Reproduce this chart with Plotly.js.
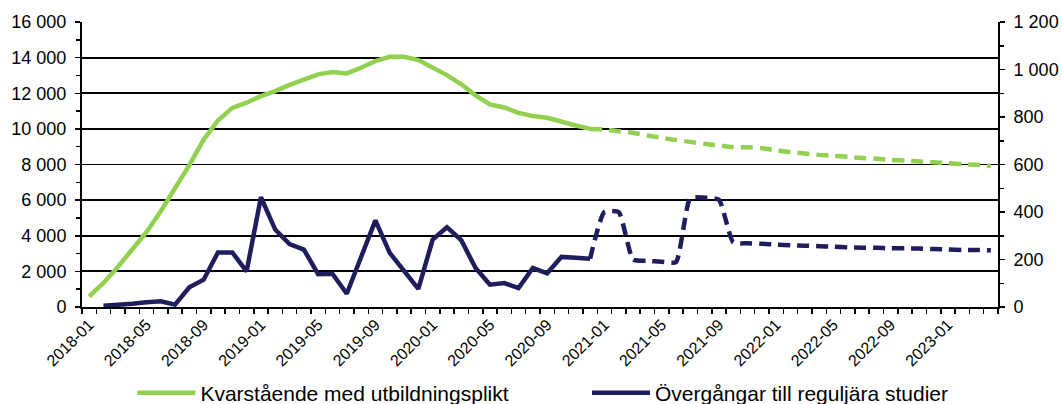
<!DOCTYPE html>
<html><head><meta charset="utf-8">
<script src="https://cdn.plot.ly/plotly-3.0.1.min.js"></script>
<style>body{margin:0;background:#fff}#chart{width:1062px;height:404px}</style>
</head><body><div id="chart"></div>
<script>
const months = [
"2018-01","2018-02","2018-03","2018-04","2018-05","2018-06","2018-07","2018-08","2018-09","2018-10","2018-11","2018-12",
"2019-01","2019-02","2019-03","2019-04","2019-05","2019-06","2019-07","2019-08","2019-09","2019-10","2019-11","2019-12",
"2020-01","2020-02","2020-03","2020-04","2020-05","2020-06","2020-07","2020-08","2020-09","2020-10","2020-11","2020-12",
"2021-01","2021-02","2021-03","2021-04","2021-05","2021-06","2021-07","2021-08","2021-09","2021-10","2021-11","2021-12",
"2022-01","2022-02","2022-03","2022-04","2022-05","2022-06","2022-07","2022-08","2022-09","2022-10","2022-11","2022-12",
"2023-01","2023-02","2023-03","2023-04"];
const tickLabels = ["2018-01","2018-05","2018-09","2019-01","2019-05","2019-09","2020-01","2020-05","2020-09",
"2021-01","2021-05","2021-09","2022-01","2022-05","2022-09","2023-01"];

// Kvarstående med utbildningsplikt (left axis)
const kvarActual = [600,1350,2250,3220,4200,5380,6690,7960,9400,10470,11180,11470,
11840,12120,12470,12780,13060,13190,13115,13430,13810,14050,14050,13860,
13470,13020,12500,11880,11370,11200,10900,10720,10620,10380,10190,10000];
const kvarForecast = [10000,9970,9870,9780,9630,9500,9370,9270,9160,9070,8970,8970,8920,
8790,8690,8620,8540,8490,8430,8370,8320,8260,8220,8170,8130,8070,8020,7980,7920];

// Övergångar till reguljära studier (right axis)
const overActual = [null,5,8,14,20,24,10,83,115,230,230,150,
462,326,265,242,138,140,56,211,365,228,155,76,
284,336,281,164,94,101,80,164,142,211,207,203];
const overForecast = [203,400,400,200,194,191,189,459,460,452,272,268,266,
263,260,258,256,254,251,250,249,247,247,246,244,242,240,240,239];

const actualMonths = months.slice(0, kvarActual.length);
const forecastMonths = months.slice(kvarActual.length - 1);

const green = '#92D050', navy = '#1F1D5C';
const font = 'Liberation Sans, Arial, sans-serif';

const traces = [
  {x: actualMonths, y: kvarActual, type:'scatter', mode:'lines', name:'Kvarstående med utbildningsplikt',
   line:{color:green, width:4.5}, yaxis:'y', legend:'legend'},
  {x: actualMonths, y: overActual, type:'scatter', mode:'lines', name:'Övergångar till reguljära studier',
   line:{color:navy, width:4.5}, yaxis:'y2', legend:'legend2'},
  {x: forecastMonths, y: kvarForecast, type:'scatter', mode:'lines', showlegend:false,
   line:{color:green, width:4.5, dash:'12px,7px', shape:'spline', smoothing:0.5}, yaxis:'y'},
  {x: forecastMonths, y: overForecast, type:'scatter', mode:'lines', showlegend:false,
   line:{color:navy, width:4.5, dash:'12px,7px', shape:'spline', smoothing:0.5}, yaxis:'y2'}
];

const legendBase = {orientation:'h', xanchor:'left', y:-0.302, yanchor:'middle', itemwidth:58,
  font:{family:font, size:21, color:'#000'}, bgcolor:'rgba(0,0,0,0)'};

const layout = {
  width:1062, height:404,
  margin:{l:82, r:64, t:22, b:97, autoexpand:false},
  paper_bgcolor:'#fff', plot_bgcolor:'#fff',
  separators:', ',
  font:{family:font, color:'#000', size:18},
  showlegend:true,
  xaxis:{type:'category', range:[-0.5, months.length-0.5], tickmode:'array',
    tickvals: months, ticktext: months.map(m => tickLabels.includes(m) ? m : ''),
    tickson:'boundaries', ticks:'outside', ticklen:5, tickcolor:'#000', tickwidth:1.5,
    tickangle:-45, showline:true, linecolor:'#000', linewidth:2, showgrid:false, zeroline:false,
    tickfont:{family:font, size:16, color:'#000'}},
  yaxis:{range:[0,16000], tick0:0, dtick:2000, showgrid:true, gridcolor:'#000', gridwidth:1.8,
    showline:true, linecolor:'#000', linewidth:2, ticks:'outside', ticklen:5, tickcolor:'#000', tickwidth:1.5,
    separatethousands:true, exponentformat:'none', zeroline:false, ticklabelstandoff:5,
    minor:{dtick:1000, ticks:'outside', ticklen:4, tickcolor:'#000', tickwidth:1.5, showgrid:false},
    tickfont:{family:font, size:18, color:'#000'}},
  yaxis2:{overlaying:'y', side:'right', range:[0,1200], tick0:0, dtick:200, showgrid:false,
    showline:true, linecolor:'#000', linewidth:2, ticks:'outside', ticklen:5, tickcolor:'#000', tickwidth:1.5,
    separatethousands:true, exponentformat:'none', zeroline:false, ticklabelstandoff:5,
    minor:{dtick:100, ticks:'outside', ticklen:4, tickcolor:'#000', tickwidth:1.5, showgrid:false},
    tickfont:{family:font, size:18, color:'#000'}},
  legend: Object.assign({}, legendBase, {x:0.055}),
  legend2: Object.assign({}, legendBase, {x:0.5513})
};

Plotly.newPlot('chart', traces, layout, {displayModeBar:false, staticPlot:true});
</script>
</body></html>
